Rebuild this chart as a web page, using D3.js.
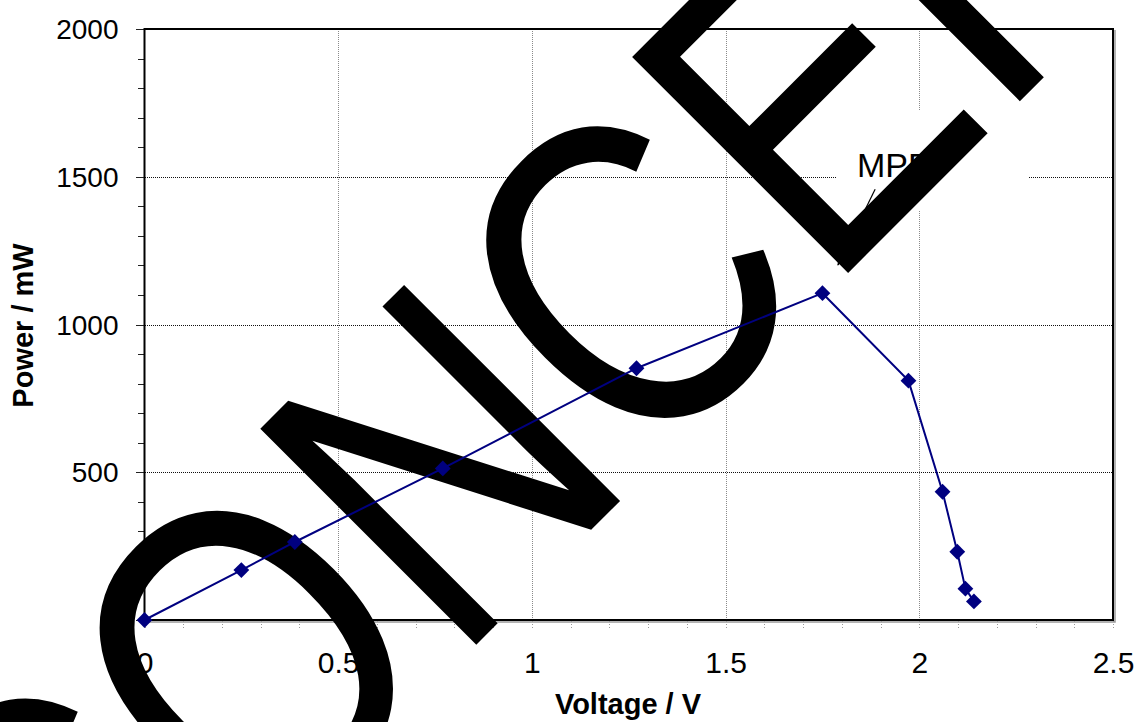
<!DOCTYPE html>
<html>
<head>
<meta charset="utf-8">
<script src="https://cdn.jsdelivr.net/npm/d3@7"></script>
<style>
  html, body { margin: 0; padding: 0; background: #fff; }
  svg { display: block; font-family: "Liberation Sans", Arial, sans-serif; }
</style>
</head>
<body>
<div id="chart"></div>
<script>
const voltage = [0, 0.25, 0.388, 0.77, 1.27, 1.75, 1.972, 2.06, 2.098, 2.119, 2.141];
const power = [0, 169, 264, 513, 852, 1106, 810, 434, 231, 106, 63];

const xTicks = [0, 0.5, 1, 1.5, 2, 2.5];
const yTicks = [0, 500, 1000, 1500, 2000];
const xGrid = [0.5, 1, 1.5, 2];
const yGrid = [500, 1000, 1500];

const w = 1137;
const h = 722;
const plotL = 144.5, plotR = 1113, plotT = 29, plotB = 620;

const x = d3.scaleLinear().domain([0, 2.5]).range([plotL, plotR]);
const y = d3.scaleLinear().domain([0, 2000]).range([plotB, plotT]);

const svg = d3.select('#chart')
  .append('svg')
  .attr('width', w)
  .attr('height', h);

// grid
svg.append('g')
  .attr('transform', 'translate(0,' + plotB + ')')
  .call(d3.axisBottom(x).tickValues(xGrid).tickSize(-(plotB - plotT)).tickFormat(''))
  .call(g => g.select('.domain').remove())
  .selectAll('line')
  .attr('stroke', '#8a8a8a')
  .attr('stroke-dasharray', '1,1')
  .attr('shape-rendering', 'crispEdges');

svg.append('g')
  .attr('transform', 'translate(' + plotL + ',0)')
  .call(d3.axisLeft(y).tickValues(yGrid).tickSize(-(plotR - plotL)).tickFormat(''))
  .call(g => g.select('.domain').remove())
  .selectAll('line')
  .attr('stroke', '#111')
  .attr('stroke-dasharray', '1,1')
  .attr('shape-rendering', 'crispEdges');

// minor + major ticks
svg.append('g')
  .attr('transform', 'translate(' + plotL + ',0)')
  .call(d3.axisLeft(y).ticks(20).tickSize(7).tickFormat(''))
  .call(g => g.select('.domain').remove())
  .selectAll('line')
  .attr('stroke', '#222')
  .attr('shape-rendering', 'crispEdges');

const yAxis = svg.append('g')
  .attr('transform', 'translate(' + plotL + ',0)')
  .call(d3.axisLeft(y).tickValues(yTicks).tickSize(9).tickPadding(17)
    .tickFormat(d => d === 0 ? '' : d))
  .call(g => g.select('.domain').remove());
yAxis.selectAll('line').attr('stroke', '#222').attr('shape-rendering', 'crispEdges');
yAxis.selectAll('text')
  .attr('dy', '0.34em')
  .attr('fill', '#000')
  .style('font-size', '28px')
  .style('font-family', '"Liberation Sans", Arial, sans-serif');

svg.append('g')
  .attr('transform', 'translate(0,' + (plotB + 1) + ')')
  .call(d3.axisBottom(x).ticks(25).tickSize(7).tickFormat(''))
  .call(g => g.select('.domain').remove())
  .selectAll('line')
  .attr('stroke', '#999')
  .attr('stroke-dasharray', '1,2')
  .attr('shape-rendering', 'crispEdges');

const xAxis = svg.append('g')
  .attr('transform', 'translate(0,' + plotB + ')')
  .call(d3.axisBottom(x).tickValues(xTicks).tickSize(0).tickFormat(d3.format('')))
  .call(g => g.select('.domain').remove());
xAxis.selectAll('text')
  .attr('y', 53)
  .attr('dy', 0)
  .attr('fill', '#000')
  .style('font-size', '30px')
  .style('font-family', '"Liberation Sans", Arial, sans-serif');

// plot frame with a small shadow
svg.append('path')
  .attr('d', 'M' + (plotR + 2) + ',' + (plotT + 1) + 'V' + (plotB + 2) + 'H' + (plotL + 1))
  .attr('fill', 'none')
  .attr('stroke', '#9a9a9a')
  .attr('stroke-width', 1.5);
svg.append('rect')
  .attr('x', plotL)
  .attr('y', plotT)
  .attr('width', plotR - plotL)
  .attr('height', plotB - plotT)
  .attr('fill', 'none')
  .attr('stroke', '#000')
  .attr('stroke-width', 2);

// axis titles
svg.append('text')
  .attr('transform', 'translate(33,' + ((plotT + plotB) / 2 + 1) + ') rotate(-90)')
  .attr('text-anchor', 'middle')
  .style('font-size', '29px')
  .style('font-weight', 'bold')
  .text('Power / mW');

svg.append('text')
  .attr('x', 628)
  .attr('y', 714)
  .attr('text-anchor', 'middle')
  .style('font-size', '29px')
  .style('font-weight', 'bold')
  .text('Voltage / V');

// MPP callout
svg.append('defs').append('marker')
  .attr('id', 'arrow')
  .attr('viewBox', '0 0 10 10')
  .attr('refX', 9)
  .attr('refY', 5)
  .attr('markerWidth', 7)
  .attr('markerHeight', 7)
  .attr('orient', 'auto')
  .append('path')
  .attr('d', 'M0,1L10,5L0,9Z')
  .attr('fill', '#000');

svg.append('rect')
  .attr('x', x(1.787))
  .attr('y', y(1726))
  .attr('width', x(2.281) - x(1.787))
  .attr('height', y(1387) - y(1726))
  .attr('fill', '#fff');

svg.append('text')
  .attr('x', x(1.839))
  .attr('y', y(1498))
  .style('font-size', '34px')
  .text('MPP');

svg.append('line')
  .attr('x1', x(1.886))
  .attr('y1', y(1458))
  .attr('x2', x(1.79))
  .attr('y2', y(1201))
  .attr('stroke', '#000')
  .attr('stroke-width', 1.2)
  .attr('marker-end', 'url(#arrow)');

// watermark sits over the chart but under the series
svg.append('text')
  .attr('transform', 'translate(69,1052) rotate(-45) scale(0.82,1)')
  .attr('fill', '#000')
  .style('font-size', '444px')
  .style('font-family', '"Liberation Sans", Arial, sans-serif')
  .text('CONCEPT');

// series
const pts = voltage.map((v, i) => ({ v: v, p: power[i] }));

const line = d3.line()
  .x(d => x(d.v))
  .y(d => y(d.p));

svg.append('path')
  .datum(pts)
  .attr('d', line)
  .attr('fill', 'none')
  .attr('stroke', '#000080')
  .attr('stroke-width', 2);

svg.selectAll('.pt')
  .data(pts)
  .enter()
  .append('path')
  .attr('class', 'pt')
  .attr('d', d3.symbol().type(d3.symbolSquare).size(125))
  .attr('transform', d => 'translate(' + x(d.v) + ',' + y(d.p) + ') rotate(45)')
  .attr('fill', '#000080');
</script>
</body>
</html>
